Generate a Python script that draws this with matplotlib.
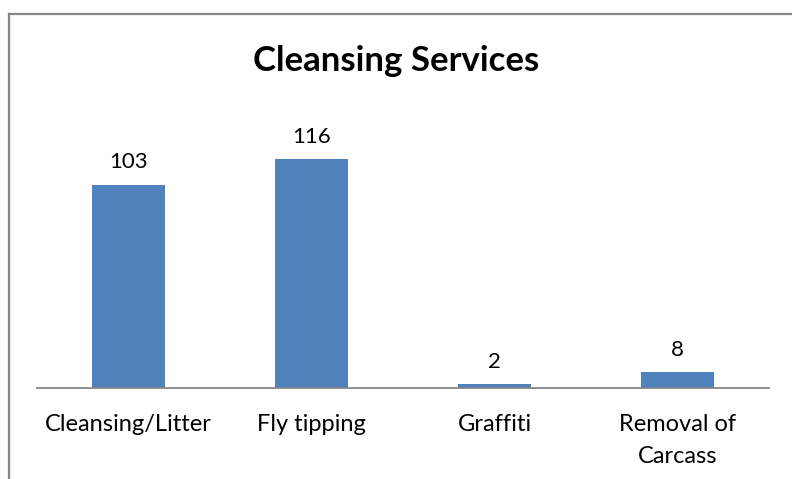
import matplotlib.pyplot as plt
from matplotlib.lines import Line2D

categories = ["Cleansing/Litter", "Fly tipping", "Graffiti", "Removal of\nCarcass"]
values = [103, 116, 2, 8]

plt.rcParams['font.family'] = ['Lato', 'DejaVu Sans']

fig = plt.figure(figsize=(7.92, 4.79), dpi=100)
# plot area: x 37..769, baseline y 388, top ~112 (pixels)
ax = fig.add_axes([37 / 792, 1 - 388 / 479, 732 / 792, 276 / 479])

x = range(len(categories))
ax.bar(x, values, width=0.4, color="#4F81BD")
ax.set_xlim(-0.5, len(categories) - 0.5)
ax.set_ylim(0, 140)

for xi, v in zip(x, values):
    ax.annotate(str(v), (xi, v), xytext=(0, 9), textcoords="offset points",
                ha="center", va="bottom", fontsize=16)

ax.set_xticks(list(x))
ax.set_xticklabels(categories, fontsize=17, linespacing=1.6, va="top")
ax.tick_params(axis="x", length=0, pad=19)
ax.set_yticks([])
for s in ["top", "right", "left"]:
    ax.spines[s].set_visible(False)
ax.spines["bottom"].set_color("#868686")
ax.spines["bottom"].set_linewidth(1.3)

fig.text(0.5, 1 - 61 / 479, "Cleansing Services", ha="center", va="center",
         fontsize=25, fontweight="bold")

# chart frame, only top and left edges visible
fig.add_artist(Line2D([8.5 / 792, 1], [1 - 13.5 / 479] * 2, transform=fig.transFigure,
                      color="#868686", linewidth=1.6))
fig.add_artist(Line2D([8.5 / 792] * 2, [0, 1 - 13.5 / 479], transform=fig.transFigure,
                      color="#868686", linewidth=1.6))

fig.savefig("out.png", dpi=100)
